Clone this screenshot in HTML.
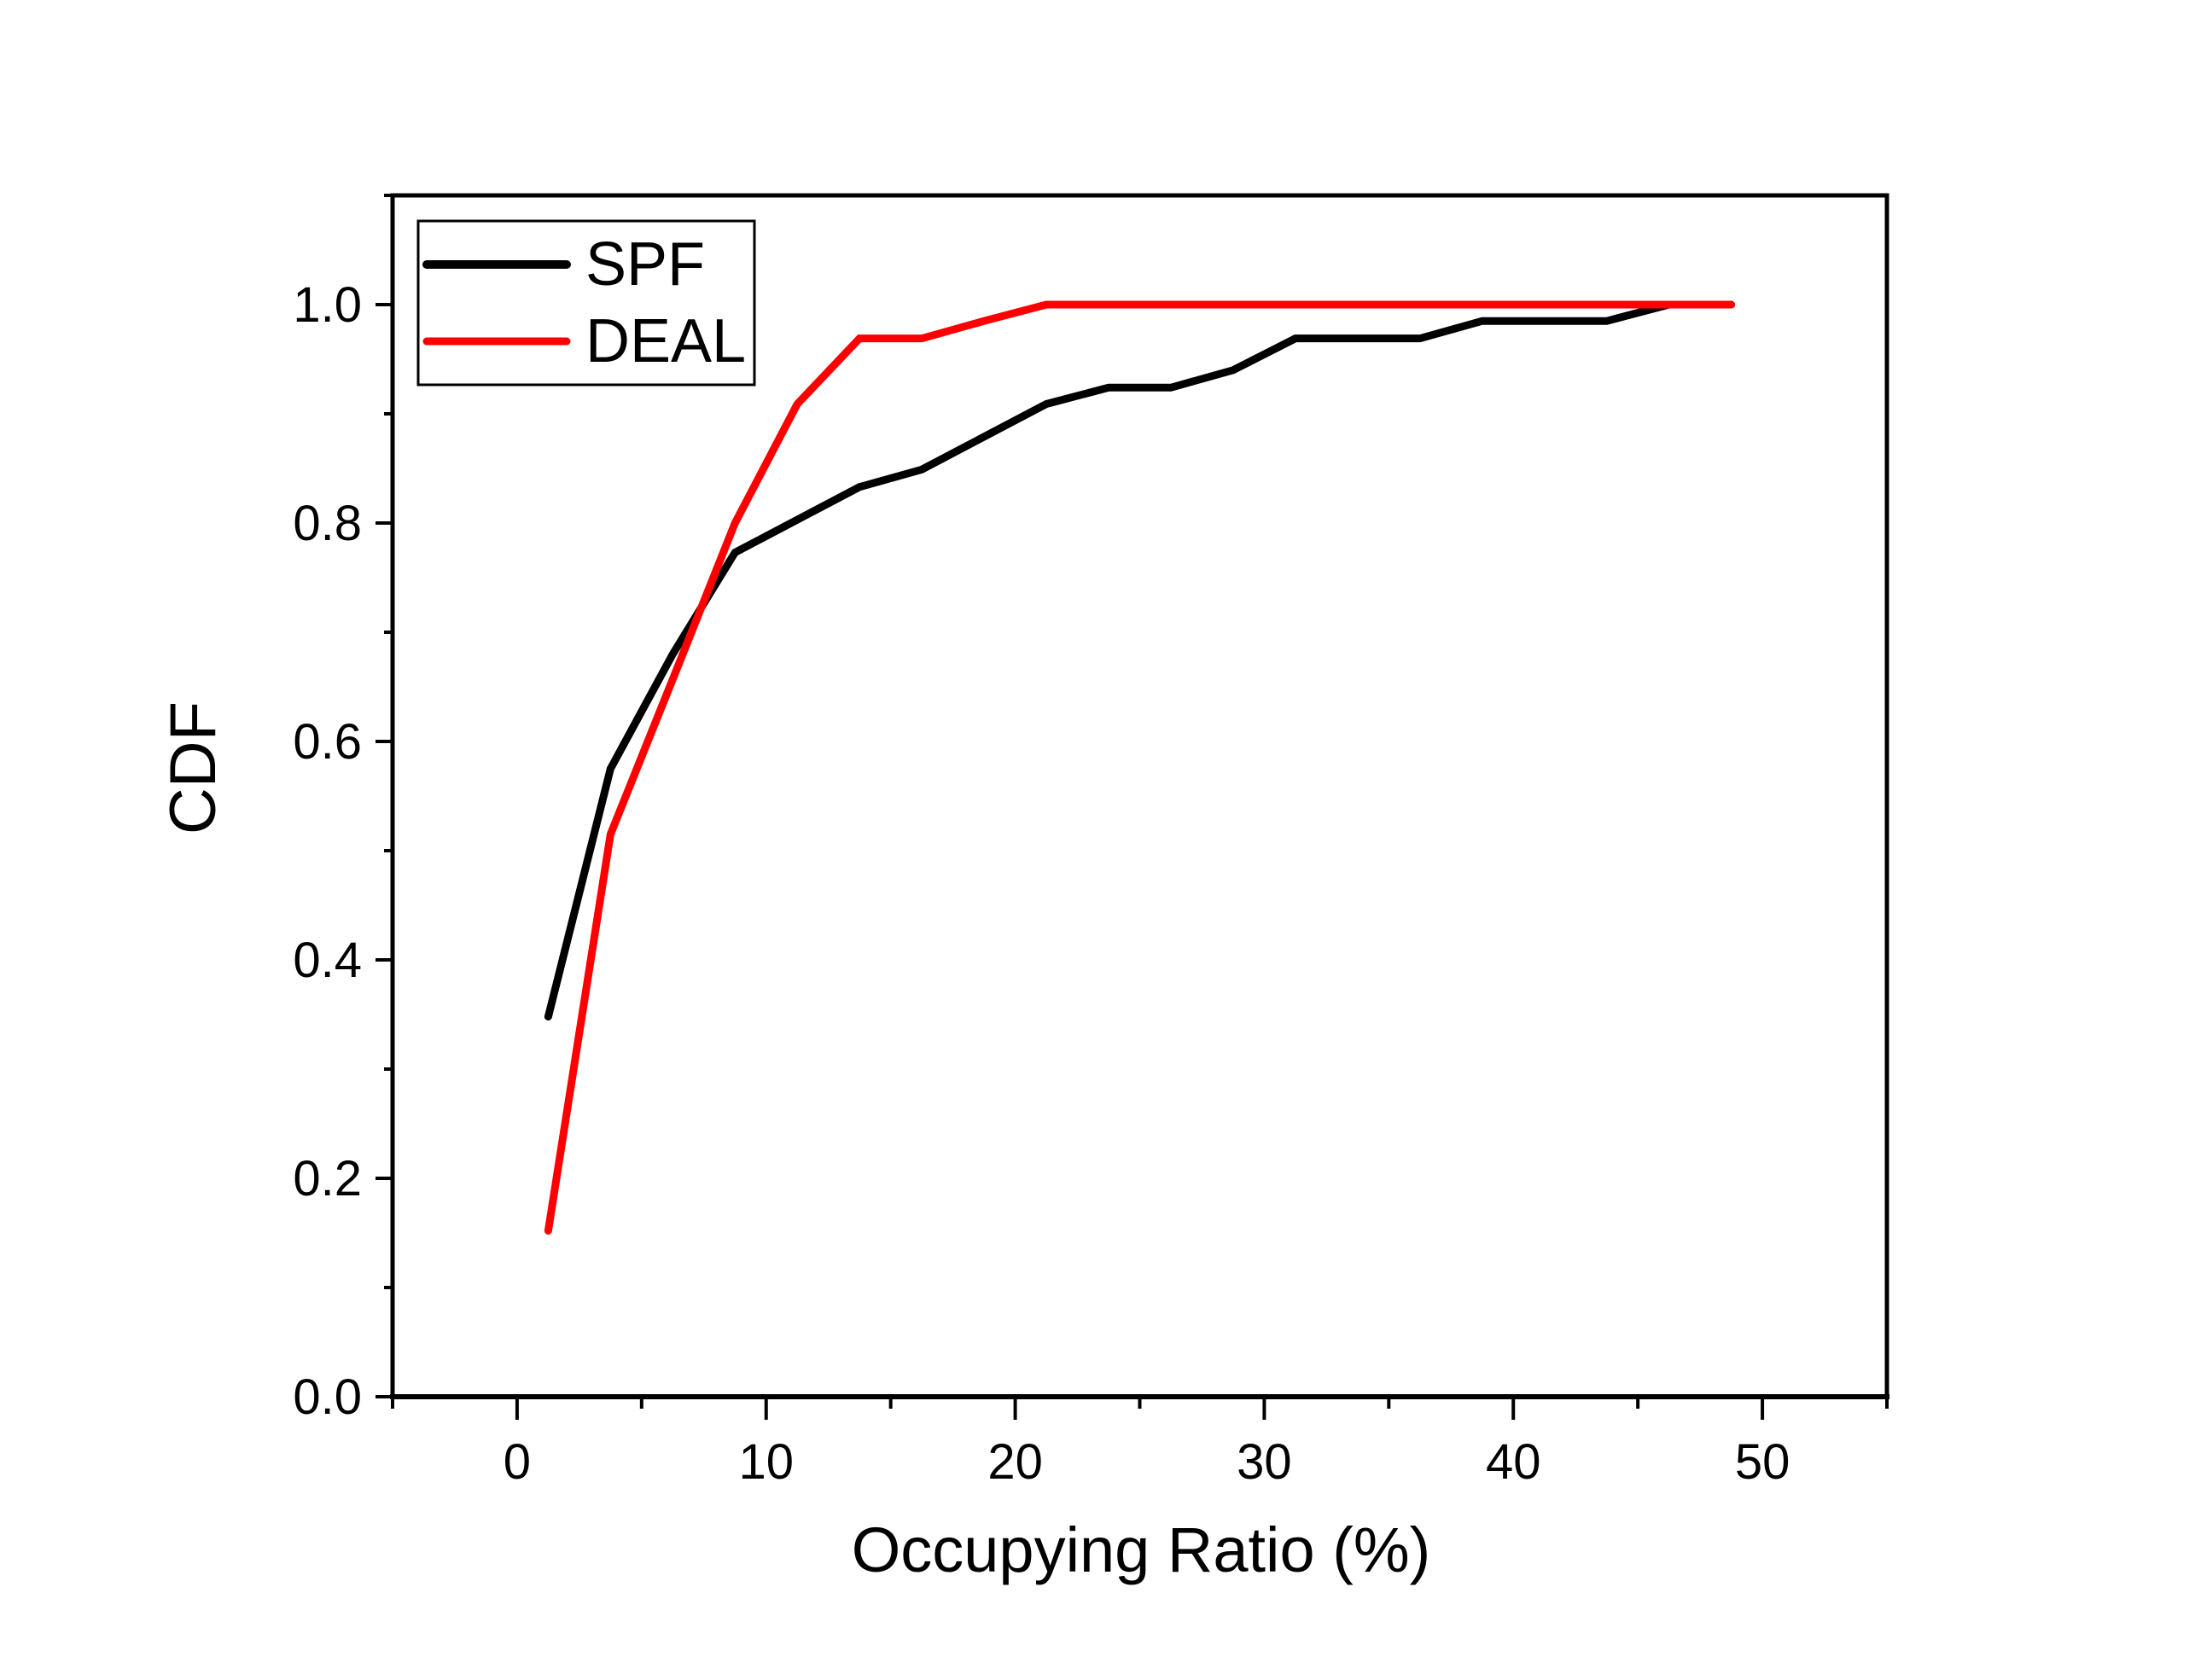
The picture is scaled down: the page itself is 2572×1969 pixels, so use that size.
<!DOCTYPE html>
<html><head><meta charset="utf-8"><style>
html,body{margin:0;padding:0;background:#fff;}
svg{display:block;font-family:"Liberation Sans",Arial,sans-serif;}
</style></head><body>
<svg id="chart" width="2572" height="1969" viewBox="0 0 2572 1969" xmlns="http://www.w3.org/2000/svg">
<rect width="2572" height="1969" fill="#fff"/>
<g id="axes"></g>
<g id="series"></g>
<text x="1337" y="1842" font-size="74" text-anchor="middle">Occupying Ratio (%)</text>
<text x="0" y="0" font-size="76" text-anchor="middle" transform="translate(252,900) rotate(-90)">CDF</text>
<g>
<rect x="490" y="259" width="394" height="192" fill="#fff" stroke="#000" stroke-width="3"/>
<line x1="500" y1="310" x2="664" y2="310" stroke="#000" stroke-width="10" stroke-linecap="round"/>
<text x="686" y="334" font-size="72">SPF</text>
<line x1="500" y1="400" x2="664" y2="400" stroke="#ff0000" stroke-width="9" stroke-linecap="round"/>
<text x="686" y="424" font-size="72">DEAL</text>
</g>
</svg>
<script>
const xValues = [1.25,3.75,6.25,8.75,11.25,13.75,16.25,18.75,21.25,23.75,26.25,28.75,31.25,33.75,36.25,38.75,41.25,43.75,46.25,48.75];
const spfValues = [0.348,0.575,0.68,0.773,0.803,0.833,0.849,0.879,0.909,0.924,0.924,0.94,0.969,0.969,0.969,0.985,0.985,0.985,1.0,1.0];
const dealValues = [0.152,0.515,0.657,0.80,0.909,0.969,0.969,0.985,1.0,1.0,1.0,1.0,1.0,1.0,1.0,1.0,1.0,1.0,1.0,1.0];
const xTickLabels = ["0","10","20","30","40","50"];
const yTickLabels = ["0.0","0.2","0.4","0.6","0.8","1.0"];

const X0=-5,X1=55,Y0=0,Y1=1.1;
const L=460,R=2211,T=229,B=1637;
function sx(v){return L+(v-X0)/(X1-X0)*(R-L);}
function sy(v){return B-(v-Y0)/(Y1-Y0)*(B-T);}
const NS="http://www.w3.org/2000/svg";
function mk(tag,attrs,parent){const e=document.createElementNS(NS,tag);for(const k in attrs)e.setAttribute(k,attrs[k]);parent.appendChild(e);return e;}
const axes=document.getElementById('axes');
let frame=mk('rect',{x:L,y:T,width:R-L,height:B-T,fill:'none',stroke:'#000','stroke-width':5},axes);


let bl=mk('line',{x1:L-3,y1:B,x2:R+3,y2:B,stroke:'#000','stroke-width':6},axes);


for(let v=-5;v<=55;v+=5){
  const major=(v%10===0);
  const t=mk('line',{x1:sx(v),y1:B,x2:sx(v),y2:B+(major?27:14),stroke:'#000','stroke-width':4},axes);
  
  
}
xTickLabels.forEach((lab)=>{
  const t=mk('text',{x:sx(Number(lab)),y:B+96,'font-size':58,'text-anchor':'middle'},axes);
  t.textContent=lab;
  
  
});
for(let i=0;i<=11;i++){
  const v=i*0.1;const major=(i%2===0);
  const t=mk('line',{x1:L-(major?20:10),y1:sy(v),x2:L,y2:sy(v),stroke:'#000','stroke-width':4},axes);
  
  
}
yTickLabels.forEach((lab)=>{
  const t=mk('text',{x:L-36,y:sy(Number(lab))+20,'font-size':58,'text-anchor':'end'},axes);
  t.textContent=lab;
  
  
});
const series=document.getElementById('series');
function drawLine(vals,color,w,name){
  const pts=xValues.map((x,i)=>sx(x)+','+sy(vals[i])).join(' ');
  const p=mk('polyline',{points:pts,fill:'none',stroke:color,'stroke-width':w,'stroke-linejoin':'miter','stroke-linecap':'round'},series);
  
  
}
drawLine(spfValues,'#000',9,'spf-line');
drawLine(dealValues,'#ff0000',9,'deal-line');
</script>
</body></html>
